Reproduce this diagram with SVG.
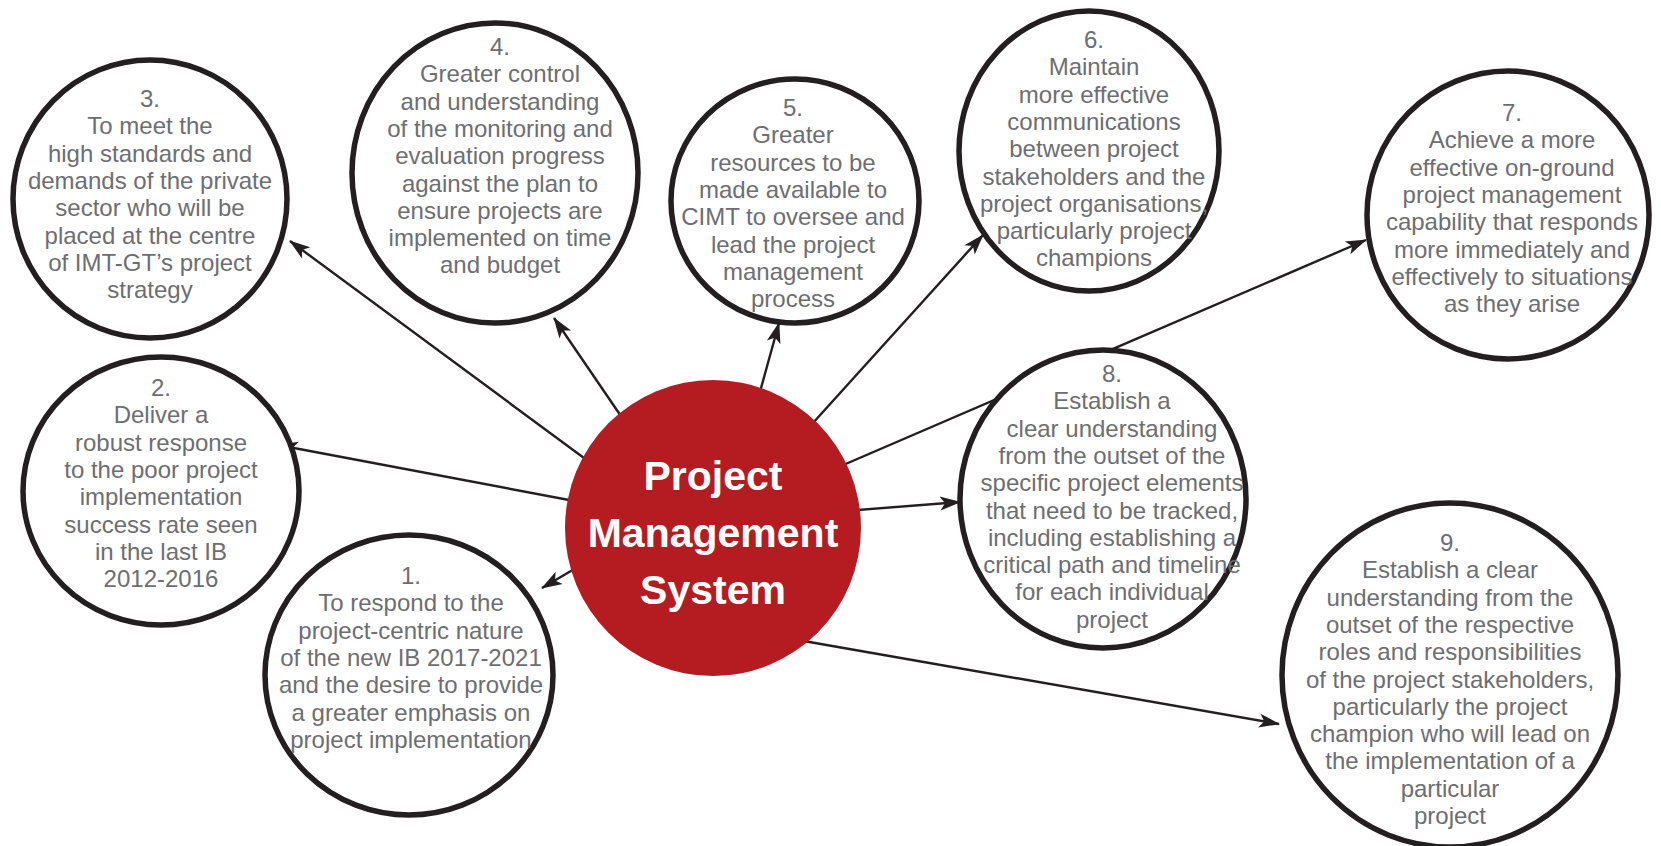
<svg xmlns="http://www.w3.org/2000/svg" width="1661" height="846" viewBox="0 0 1661 846">
<defs>
<style>
.node{fill:#ffffff;stroke:#231f20;stroke-width:5.5}
.t{font-family:"Liberation Sans",Arial,sans-serif;font-size:24px;fill:#6d6e71;text-anchor:middle}
.ct{font-family:"Liberation Sans",Arial,sans-serif;font-size:41px;font-weight:bold;fill:#ffffff;text-anchor:middle}
.conn{stroke:#231f20;stroke-width:2.4;fill:none;marker-end:url(#ah)}
</style>
<marker id="ah" markerUnits="userSpaceOnUse" markerWidth="30" markerHeight="20" viewBox="-26 -10 30 20" refX="0" refY="0" orient="auto">
<path d="M1,0 L-20,-7 L-15,0 L-20,7 Z" fill="#231f20"/>
</marker>
</defs>
<rect width="1661" height="846" fill="#ffffff"/>
<g id="connectors">
<line class="conn" x1="593" y1="558" x2="542" y2="588"/>
<line class="conn" x1="585" y1="503" x2="278" y2="445"/>
<line class="conn" x1="603" y1="472" x2="290" y2="241"/>
<line class="conn" x1="625" y1="422" x2="554" y2="318"/>
<line class="conn" x1="758" y1="399" x2="779" y2="323"/>
<line class="conn" x1="803" y1="434" x2="983" y2="235"/>
<line class="conn" x1="834" y1="469" x2="1366" y2="240"/>
<line class="conn" x1="832" y1="512" x2="960" y2="502"/>
<line class="conn" x1="798" y1="640" x2="1279" y2="724"/>
</g>
<g id="center">
<circle cx="713" cy="528" r="148" fill="#b41c22"/>
<text class="ct" x="713" y="490">Project</text>
<text class="ct" x="713" y="547">Management</text>
<text class="ct" x="713" y="604">System</text>
</g>
<g id="node1">
<ellipse class="node" cx="409" cy="675" rx="144" ry="140"/>
<text class="t" x="411" y="584"><tspan x="411">1.</tspan><tspan x="411" dy="27.3">To respond to the</tspan><tspan x="411" dy="27.3">project-centric nature</tspan><tspan x="411" dy="27.3">of the new IB 2017-2021</tspan><tspan x="411" dy="27.3">and the desire to provide</tspan><tspan x="411" dy="27.3">a greater emphasis on</tspan><tspan x="411" dy="27.3">project implementation</tspan></text>
</g>
<g id="node2">
<ellipse class="node" cx="161" cy="491" rx="138" ry="134"/>
<text class="t" x="161" y="396"><tspan x="161">2.</tspan><tspan x="161" dy="27.3">Deliver a</tspan><tspan x="161" dy="27.3">robust response</tspan><tspan x="161" dy="27.3">to the poor project</tspan><tspan x="161" dy="27.3">implementation</tspan><tspan x="161" dy="27.3">success rate seen</tspan><tspan x="161" dy="27.3">in the last IB</tspan><tspan x="161" dy="27.3">2012-2016</tspan></text>
</g>
<g id="node3">
<ellipse class="node" cx="150" cy="199" rx="137" ry="139"/>
<text class="t" x="150" y="107"><tspan x="150">3.</tspan><tspan x="150" dy="27.3">To meet the</tspan><tspan x="150" dy="27.3">high standards and</tspan><tspan x="150" dy="27.3">demands of the private</tspan><tspan x="150" dy="27.3">sector who will be</tspan><tspan x="150" dy="27.3">placed at the centre</tspan><tspan x="150" dy="27.3">of IMT-GT’s project</tspan><tspan x="150" dy="27.3">strategy</tspan></text>
</g>
<g id="node4">
<ellipse class="node" cx="495" cy="173" rx="143" ry="150"/>
<text class="t" x="500" y="55"><tspan x="500">4.</tspan><tspan x="500" dy="27.3">Greater control</tspan><tspan x="500" dy="27.3">and understanding</tspan><tspan x="500" dy="27.3">of the monitoring and</tspan><tspan x="500" dy="27.3">evaluation progress</tspan><tspan x="500" dy="27.3">against the plan to</tspan><tspan x="500" dy="27.3">ensure projects are</tspan><tspan x="500" dy="27.3">implemented on time</tspan><tspan x="500" dy="27.3">and budget</tspan></text>
</g>
<g id="node5">
<ellipse class="node" cx="795" cy="201" rx="124" ry="122"/>
<text class="t" x="793" y="116"><tspan x="793">5.</tspan><tspan x="793" dy="27.3">Greater</tspan><tspan x="793" dy="27.3">resources to be</tspan><tspan x="793" dy="27.3">made available to</tspan><tspan x="793" dy="27.3">CIMT to oversee and</tspan><tspan x="793" dy="27.3">lead the project</tspan><tspan x="793" dy="27.3">management</tspan><tspan x="793" dy="27.3">process</tspan></text>
</g>
<g id="node6">
<ellipse class="node" cx="1089" cy="151" rx="130" ry="140"/>
<text class="t" x="1094" y="48"><tspan x="1094">6.</tspan><tspan x="1094" dy="27.3">Maintain</tspan><tspan x="1094" dy="27.3">more effective</tspan><tspan x="1094" dy="27.3">communications</tspan><tspan x="1094" dy="27.3">between project</tspan><tspan x="1094" dy="27.3">stakeholders and the</tspan><tspan x="1094" dy="27.3">project organisations,</tspan><tspan x="1094" dy="27.3">particularly project</tspan><tspan x="1094" dy="27.3">champions</tspan></text>
</g>
<g id="node7">
<ellipse class="node" cx="1508" cy="215" rx="141" ry="144"/>
<text class="t" x="1512" y="121"><tspan x="1512">7.</tspan><tspan x="1512" dy="27.3">Achieve a more</tspan><tspan x="1512" dy="27.3">effective on-ground</tspan><tspan x="1512" dy="27.3">project management</tspan><tspan x="1512" dy="27.3">capability that responds</tspan><tspan x="1512" dy="27.3">more immediately and</tspan><tspan x="1512" dy="27.3">effectively to situations</tspan><tspan x="1512" dy="27.3">as they arise</tspan></text>
</g>
<g id="node8">
<ellipse class="node" cx="1103" cy="499" rx="143" ry="149"/>
<text class="t" x="1112" y="382"><tspan x="1112">8.</tspan><tspan x="1112" dy="27.3">Establish a</tspan><tspan x="1112" dy="27.3">clear understanding</tspan><tspan x="1112" dy="27.3">from the outset of the</tspan><tspan x="1112" dy="27.3">specific project elements</tspan><tspan x="1112" dy="27.3">that need to be tracked,</tspan><tspan x="1112" dy="27.3">including establishing a</tspan><tspan x="1112" dy="27.3">critical path and timeline</tspan><tspan x="1112" dy="27.3">for each individual</tspan><tspan x="1112" dy="27.3">project</tspan></text>
</g>
<g id="node9">
<ellipse class="node" cx="1450" cy="675" rx="168" ry="172"/>
<text class="t" x="1450" y="551"><tspan x="1450">9.</tspan><tspan x="1450" dy="27.3">Establish a clear</tspan><tspan x="1450" dy="27.3">understanding from the</tspan><tspan x="1450" dy="27.3">outset of the respective</tspan><tspan x="1450" dy="27.3">roles and responsibilities</tspan><tspan x="1450" dy="27.3">of the project stakeholders,</tspan><tspan x="1450" dy="27.3">particularly the project</tspan><tspan x="1450" dy="27.3">champion who will lead on</tspan><tspan x="1450" dy="27.3">the implementation of a</tspan><tspan x="1450" dy="27.3">particular</tspan><tspan x="1450" dy="27.3">project</tspan></text>
</g>
</svg>
